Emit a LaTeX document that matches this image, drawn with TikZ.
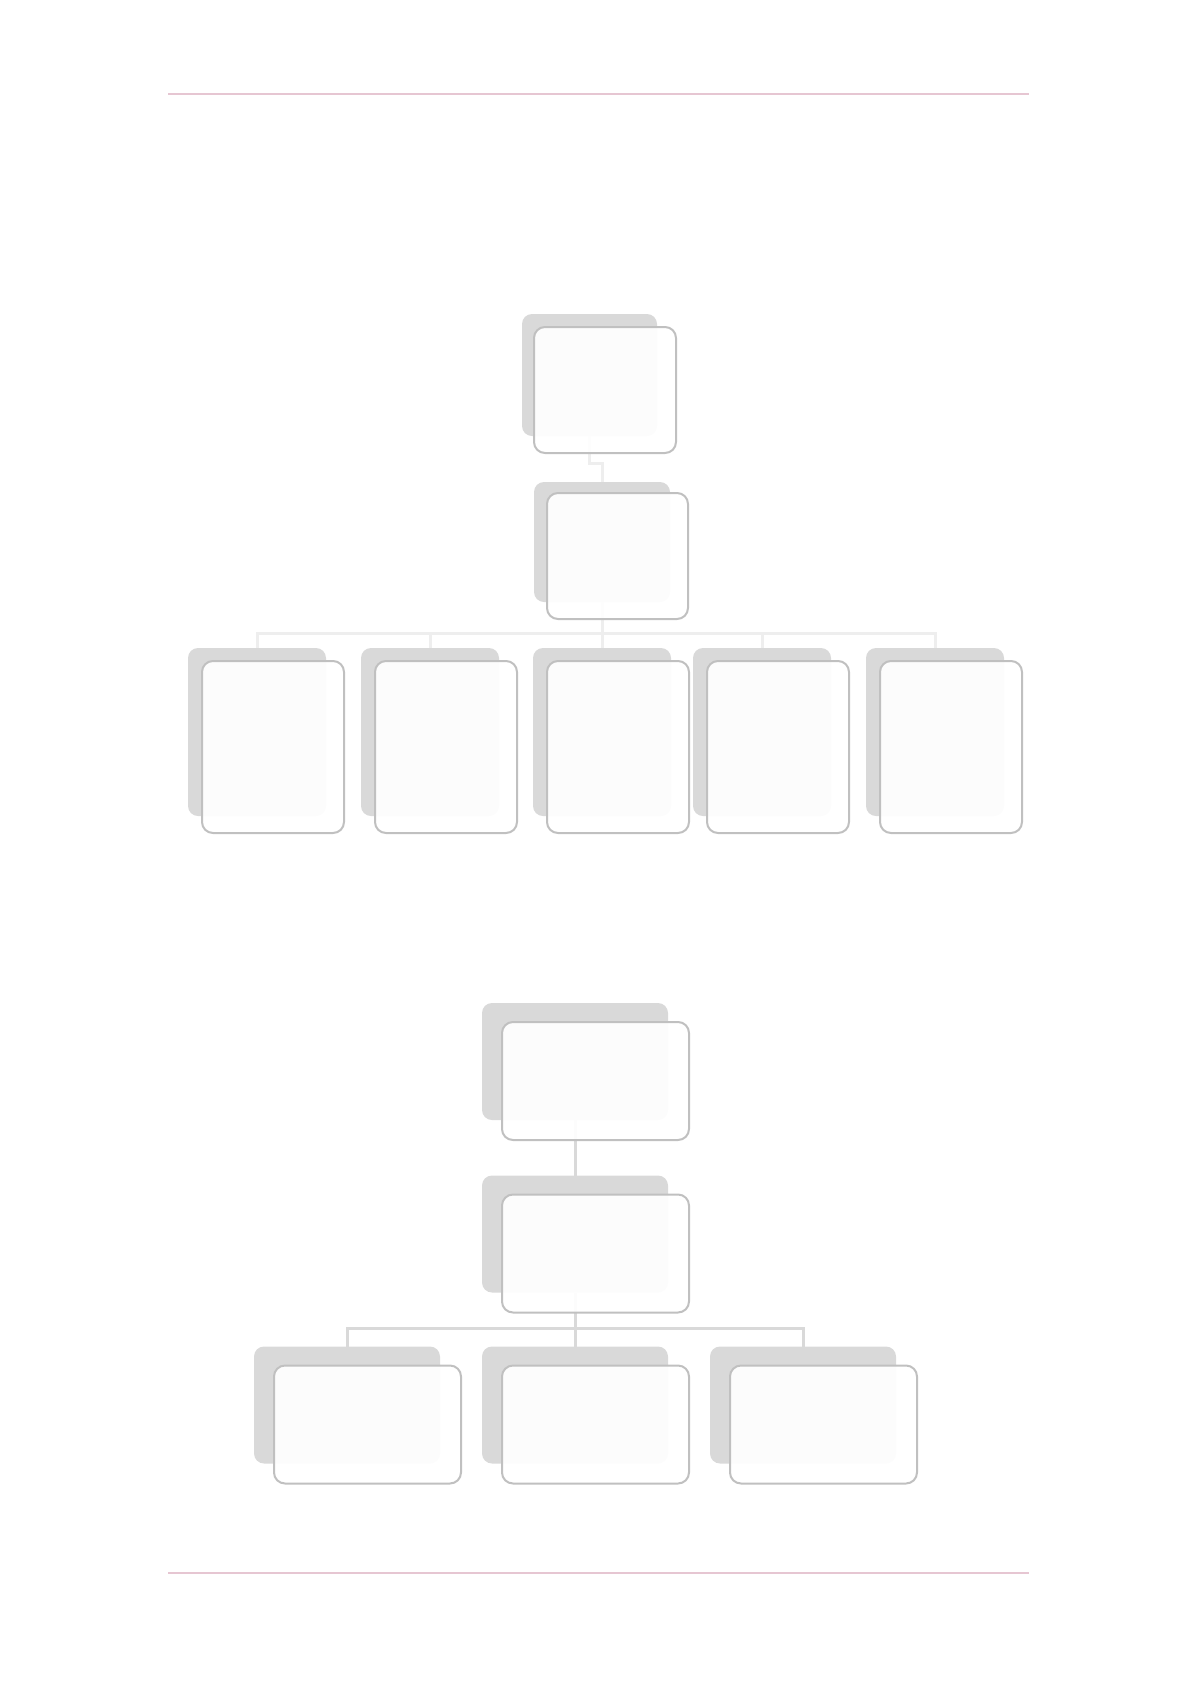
\documentclass[tikz,border=0pt]{standalone}
\definecolor{shadowgray}{HTML}{D9D9D9}
\definecolor{edgegray}{HTML}{C0C0C0}
\definecolor{paleline}{HTML}{EEEEEE}
\definecolor{midline}{HTML}{D9D9D9}
\definecolor{rulepink}{HTML}{E6C6D2}
\tikzset{
  backbox/.style={fill=shadowgray,rounded corners=10pt,inner sep=0pt,outer sep=0pt},
  cardbox/.style={draw=edgegray,line width=2pt,fill=white,fill opacity=0.93,rounded corners=11pt,inner sep=0pt},
  palelink/.style={draw=paleline,line width=3pt},
  midlink/.style={draw=midline,line width=3pt}
}
\begin{document}
\begin{tikzpicture}[x=1pt,y=-1pt]
  \useasboundingbox (0,0) rectangle (1196,1692);
  % page rules
  \draw[rulepink,line width=1.5pt] (168,94) -- (1029,94);
  \draw[rulepink,line width=1.5pt] (168,1573) -- (1029,1573);
  % upper chart: shadows
  \node[backbox,minimum width=135pt,minimum height=122pt] (top) at (589.5,375) {};
  \node[backbox,minimum width=136pt,minimum height=120pt] (mid) at (602,542) {};
  \node[backbox,minimum width=138pt,minimum height=168pt] (r1) at (257,732) {};
  \node[backbox,minimum width=138pt,minimum height=168pt] (r2) at (430,732) {};
  \node[backbox,minimum width=138pt,minimum height=168pt] (r3) at (602,732) {};
  \node[backbox,minimum width=138pt,minimum height=168pt] (r4) at (762,732) {};
  \node[backbox,minimum width=138pt,minimum height=168pt] (r5) at (935,732) {};
  % upper chart: links
  \draw[palelink] (top.south) -- ++(0,27) -| (mid.north);
  \draw[palelink] (mid.south) -- (r3.north);
  \draw[palelink] (r1.north) -- ++(0,-15) -| (r5.north);
  \draw[palelink] (r2.north) -- ++(0,-15);
  \draw[palelink] (r4.north) -- ++(0,-15);
  % upper chart: cards
  \node[cardbox,minimum width=142pt,minimum height=126pt] (topf) at (605,390) {};
  \node[cardbox,minimum width=141pt,minimum height=126pt] (midf) at (617.5,556) {};
  \node[cardbox,minimum width=142pt,minimum height=172pt] (r1f) at (273,747) {};
  \node[cardbox,minimum width=142pt,minimum height=172pt] (r2f) at (446,747) {};
  \node[cardbox,minimum width=142pt,minimum height=172pt] (r3f) at (618,747) {};
  \node[cardbox,minimum width=142pt,minimum height=172pt] (r4f) at (778,747) {};
  \node[cardbox,minimum width=142pt,minimum height=172pt] (r5f) at (951,747) {};
  % lower chart: shadows
  \node[backbox,minimum width=186pt,minimum height=117pt] (btop) at (575,1061.5) {};
  \node[backbox,minimum width=186pt,minimum height=117pt] (bmid) at (575,1234) {};
  \node[backbox,minimum width=186pt,minimum height=117pt] (b1) at (347,1405) {};
  \node[backbox,minimum width=186pt,minimum height=117pt] (b2) at (575,1405) {};
  \node[backbox,minimum width=186pt,minimum height=117pt] (b3) at (803,1405) {};
  % lower chart: links
  \draw[midlink] (btop.south) -- (bmid.north);
  \draw[midlink] (bmid.south) -- (b2.north);
  \draw[midlink] (b1.north) -- ++(0,-18) -| (b3.north);
  % lower chart: cards
  \node[cardbox,minimum width=187pt,minimum height=118pt] (btopf) at (595.5,1081) {};
  \node[cardbox,minimum width=187pt,minimum height=118pt] (bmidf) at (595.5,1253.5) {};
  \node[cardbox,minimum width=187pt,minimum height=118pt] (b1f) at (367.5,1424.5) {};
  \node[cardbox,minimum width=187pt,minimum height=118pt] (b2f) at (595.5,1424.5) {};
  \node[cardbox,minimum width=187pt,minimum height=118pt] (b3f) at (823.5,1424.5) {};
\end{tikzpicture}
\end{document}
